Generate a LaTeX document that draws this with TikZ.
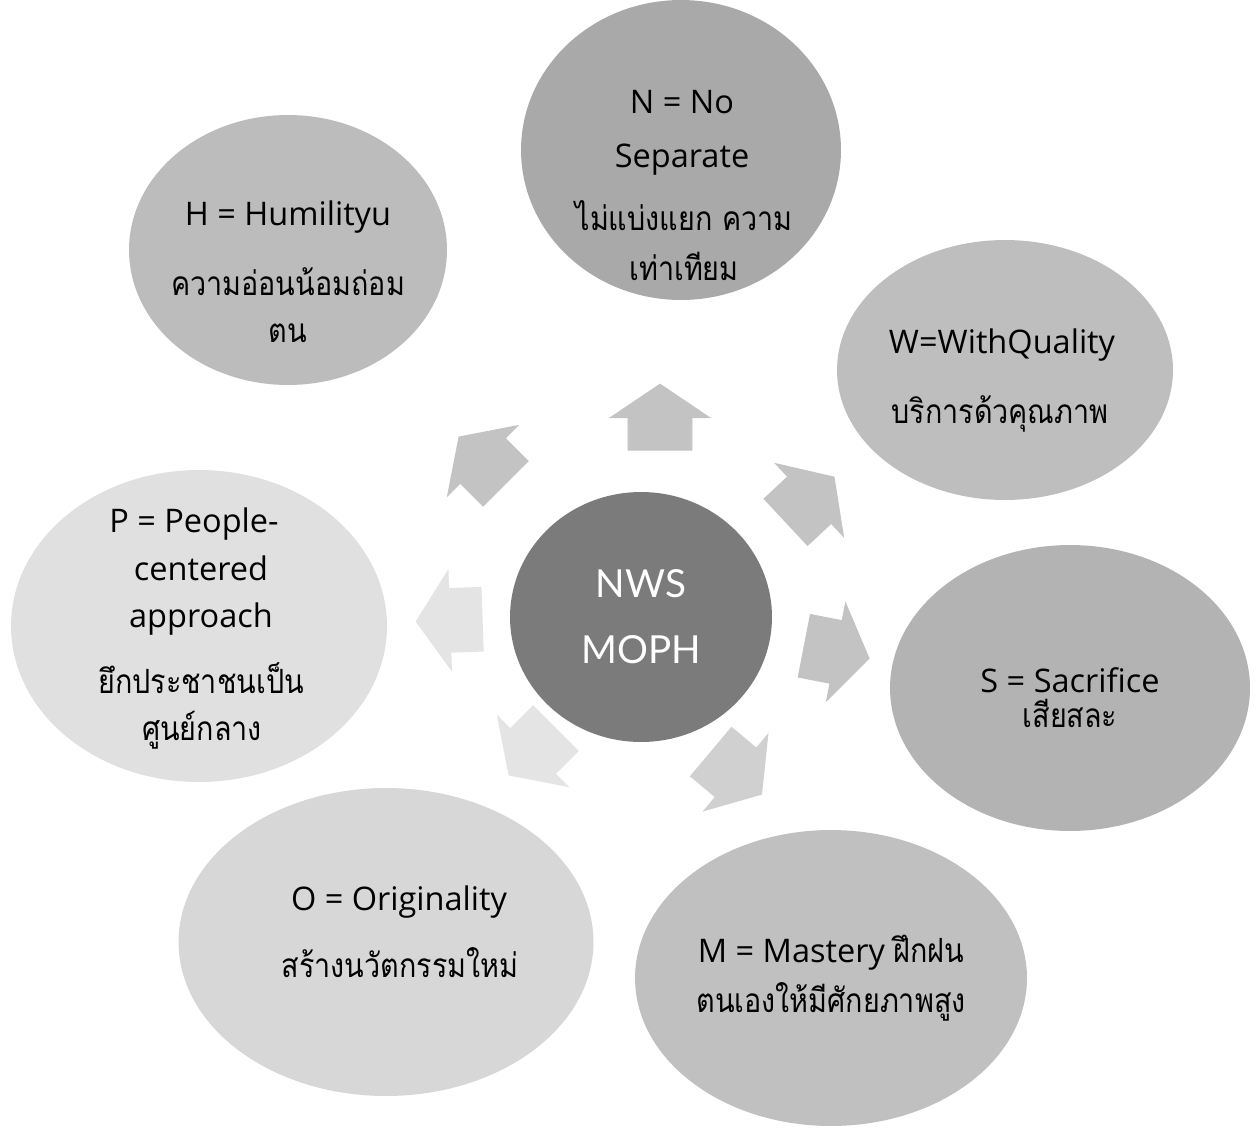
\documentclass[tikz,border=0pt]{standalone}
\usepackage{fontspec}
\usetikzlibrary{shapes.geometric,shapes.arrows}
\newfontfamily\enfont{Open Sans}
\newfontfamily\thfont[Script=Thai,FakeStretch=0.86]{Loma}
\newfontfamily\cefont{Lato}
\definecolor{cCenter}{HTML}{7B7B7B}
\definecolor{cN}{HTML}{A9A9A9}
\definecolor{cH}{HTML}{BCBCBC}
\definecolor{cW}{HTML}{BEBEBE}
\definecolor{cS}{HTML}{B3B3B3}
\definecolor{cM}{HTML}{C0C0C0}
\definecolor{cO}{HTML}{D7D7D7}
\definecolor{cP}{HTML}{E0E0E0}
\definecolor{aDark}{HTML}{C3C3C3}
\definecolor{aMid}{HTML}{D0D0D0}
\definecolor{aLight}{HTML}{E4E4E4}
\tikzset{
  bubble/.style={ellipse, draw=none, inner sep=0pt},
  blockarrow/.style={single arrow, draw=none, inner sep=0pt,
    minimum height=1.34cm, minimum width=2.04cm,
    single arrow head extend=0.38cm, single arrow tip angle=112},
  en/.style={anchor=base, inner sep=0pt, font=\enfont\fontsize{18.5}{22}\selectfont},
  th/.style={anchor=base, inner sep=0pt, font=\thfont\fontsize{19}{22}\selectfont},
  ce/.style={anchor=base, inner sep=0pt, text=white, font=\cefont\fontsize{22}{26}\selectfont}
}
\newcommand{\shaft}{\rule{0pt}{1.28cm}}
\begin{document}
\begin{tikzpicture}[x=0.02cm,y=-0.02cm]
\useasboundingbox[fill=white] (0,0) rectangle (1256,1129);
% outer bubbles
\node[bubble, fill=cN, minimum width=6.40cm, minimum height=6.00cm] (N) at (681,150) {};
\node[bubble, fill=cH, minimum width=6.36cm, minimum height=5.40cm] (H) at (288,250) {};
\node[bubble, fill=cW, minimum width=6.72cm, minimum height=5.20cm] (W) at (1005,370) {};
\node[bubble, fill=cS, minimum width=7.20cm, minimum height=5.72cm] (S) at (1070,688) {};
\node[bubble, fill=cM, minimum width=7.84cm, minimum height=5.92cm] (M) at (831,978) {};
\node[bubble, fill=cO, minimum width=8.30cm, minimum height=6.16cm] (O) at (386,942) {};
\node[bubble, fill=cP, minimum width=7.52cm, minimum height=6.24cm] (P) at (199,626) {};
% centre
\node[bubble, fill=cCenter, minimum width=5.24cm, minimum height=5.00cm] (C) at (641,617) {};
% arrows
\node[blockarrow, fill=aDark, rotate=90] (aN) at (660,428) {\shaft};
\node[blockarrow, fill=aDark, rotate=135] (aNW) at (490,468) {\shaft};
\node[blockarrow, fill=aDark, rotate=43] (aNE) at (802,507) {\shaft};
\node[blockarrow, fill=aDark, rotate=-11] (aE) at (826,650) {\shaft};
\node[blockarrow, fill=aMid, rotate=-40] (aSE) at (728,766) {\shaft};
\node[blockarrow, fill=aLight, rotate=-135] (aSW) at (540,744) {\shaft};
\node[blockarrow, fill=aLight, rotate=182] (aW) at (460,620) {\shaft};
% texts
\node[ce] (Ct1) at (641,597) {NWS};
\node[ce] (Ct2) at (641,663) {MOPH};
\node[en] (Nt1) at (682,113) {N = No};
\node[en] (Nt2) at (682,167) {Separate};
\node[th] (Nt3) at (684,230) {ไม่แบ่งแยก ความ};
\node[th] (Nt4) at (684,280) {เท่าเทียม};
\node[en] (Ht1) at (288,225) {H = Humilityu};
\node[th] (Ht2) at (288,295) {ความอ่อนน้อมถ่อม};
\node[th] (Ht3) at (288,342) {ตน};
\node[en] (Wt1) at (1002,353) {W=WithQuality};
\node[th] (Wt2) at (1000,423) {บริการด้วคุณภาพ};
\node[en] (St1) at (1070,692) {S = Sacrifice};
\node[th] (St2) at (1070,727) {เสียสละ};
\node[en] (Mt1) at (831,962) {M = Mastery {\thfont\fontsize{19}{22}\selectfont ฝึกฝน}};
\node[th] (Mt2) at (831,1012) {ตนเองให้มีศักยภาพสูง};
\node[en] (Ot1) at (399,910) {O = Originality};
\node[th] (Ot2) at (400,977) {สร้างนวัตกรรมใหม่};
\node[en] (Pt1) at (194,532) {P = People-};
\node[en] (Pt2) at (201,580) {centered};
\node[en] (Pt3) at (201,627) {approach};
\node[th] (Pt4) at (201,693) {ยึกประชาชนเป็น};
\node[th] (Pt5) at (202,740) {ศูนย์กลาง};
\end{tikzpicture}
\end{document}
